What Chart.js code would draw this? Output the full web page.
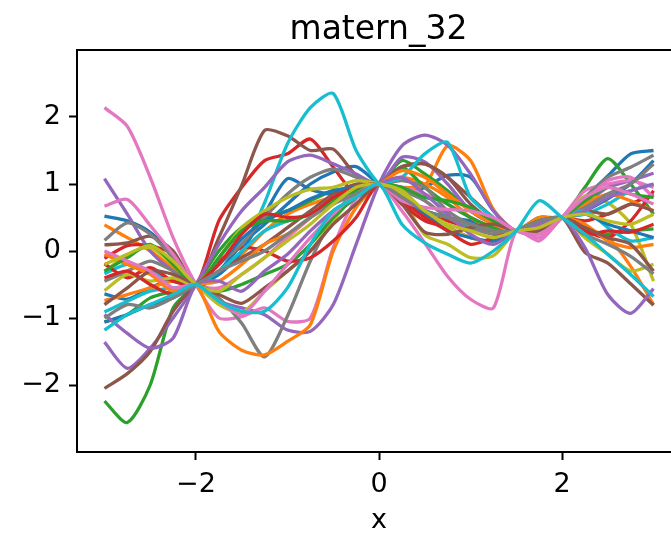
<!DOCTYPE html>
<html>
<head>
<meta charset="utf-8">
<script src="https://cdn.jsdelivr.net/npm/chart.js@4.4.1/dist/chart.umd.min.js"></script>
<style>
  html, body { margin: 0; padding: 0; background: #fff; overflow: hidden; }
</style>
</head>
<body>
<canvas id="gp" width="757" height="536"></canvas>
<script>
// sample grid and axis ticks
const xs = [-3, -2.75, -2.5, -2.25, -2, -1.75, -1.5, -1.25, -1, -0.75, -0.5, -0.25,
            0, 0.25, 0.5, 0.75, 1, 1.25, 1.5, 1.75, 2, 2.25, 2.5, 2.75, 3];
const xTicks = [-2, 0, 2];
const yTicks = [-2, -1, 0, 1, 2];

// posterior samples, three per colour
const blue = [
  [0.52, 0.45, 0.28, -0.05, -0.5, -0.3, 0.1, 0.4, 0.7, 1.0, 1.18, 1.26, 1, 0.85, 0.95, 1.13, 1.1, 0.6, 0.3, 0.45, 0.5, 0.8, 1.12, 1.45, 1.5],
  [-0.64, -0.72, -0.55, -0.42, -0.5, -0.35, 0.0, 0.55, 1.08, 0.92, 0.85, 0.95, 1, 0.75, 0.6, 0.5, 0.45, 0.35, 0.3, 0.48, 0.5, 0.6, 0.78, 1.0, 1.35],
  [-1.06, -0.95, -0.8, -0.7, -0.5, -0.2, 0.18, 0.45, 0.6, 0.78, 0.9, 0.95, 1, 0.8, 0.55, 0.3, 0.2, 0.15, 0.3, 0.45, 0.5, 0.55, 0.4, 0.3, 0.2]
];
const orange = [
  [0.39, 0.2, 0.0, -0.25, -0.5, -0.3, -0.05, 0.3, 0.55, 0.7, 0.8, 0.85, 1, 0.95, 0.98, 1.57, 1.35, 0.62, 0.3, 0.45, 0.5, 0.35, 0.2, -0.23, -0.8],
  [-0.74, -0.65, -0.55, -0.45, -0.5, -1.2, -1.48, -1.55, -1.35, -1.1, 0.0, 0.65, 1, 1.1, 1.0, 0.8, 0.5, 0.35, 0.3, 0.5, 0.5, 0.7, 0.85, 0.75, 0.6],
  [-0.05, -0.2, -0.35, -0.6, -0.5, -0.45, -0.2, 0.1, 0.25, 0.5, 0.8, 0.9, 1, 1.2, 1.1, 0.85, 0.6, 0.4, 0.3, 0.4, 0.5, 0.4, 0.15, 0.05, 0.1]
];
const green = [
  [-2.24, -2.56, -2.0, -0.85, -0.5, 0.0, 0.35, 0.5, 0.6, 0.75, 0.9, 0.95, 1, 1.35, 1.15, 0.9, 0.6, 0.45, 0.3, 0.5, 0.5, 0.95, 1.38, 1.0, 0.55],
  [-1.06, -0.95, -0.7, -0.6, -0.5, -0.6, -0.5, -0.35, -0.2, 0.1, 0.5, 0.8, 1, 1.25, 0.95, 0.7, 0.5, 0.35, 0.3, 0.45, 0.5, 0.3, 0.25, 0.3, 0.33],
  [-0.3, -0.1, 0.1, -0.2, -0.5, -0.1, 0.3, 0.45, 0.45, 0.55, 0.75, 0.9, 1, 0.95, 0.8, 0.75, 0.65, 0.45, 0.3, 0.4, 0.5, 0.75, 0.95, 0.85, 0.8]
];
const red = [
  [-0.11, 0.08, 0.08, -0.05, -0.5, 0.45, 0.95, 1.35, 1.45, 1.67, 1.25, 0.85, 1, 0.8, 0.55, 0.45, 0.35, 0.3, 0.3, 0.4, 0.5, 0.45, 0.55, 0.7, 0.85],
  [-0.19, -0.4, -0.25, -0.45, -0.5, -0.15, 0.05, 0.0, -0.15, -0.1, 0.15, 0.5, 1, 0.7, 0.45, 0.35, 0.2, 0.15, 0.3, 0.35, 0.5, 0.3, 0.2, 0.45, 0.9],
  [-0.4, -0.3, -0.5, -0.65, -0.5, -0.2, 0.25, 0.55, 0.5, 0.55, 0.8, 0.95, 1, 0.75, 0.5, 0.3, 0.1, 0.2, 0.3, 0.4, 0.5, 0.25, 0.3, 0.28, 0.4]
];
const purple = [
  [1.08, 0.55, 0.0, -0.3, -0.5, -0.75, -0.85, -0.95, -1.18, -1.2, -0.8, 0.1, 1, 1.57, 1.73, 1.58, 1.15, 0.6, 0.3, 0.45, 0.5, 0.7, 0.95, 1.05, 1.16],
  [-1.36, -1.75, -1.45, -1.0, -0.5, 0.1, 0.6, 0.95, 1.33, 1.43, 1.3, 1.15, 1, 1.4, 1.33, 1.0, 0.6, 0.4, 0.3, 0.4, 0.5, 0.05, -0.65, -0.93, -0.56],
  [-0.95, -1.23, -1.45, -1.3, -0.5, -0.45, -0.6, -0.3, -0.05, 0.3, 0.6, 0.8, 1, 1.1, 0.85, 0.55, 0.25, 0.1, 0.3, 0.4, 0.5, 0.6, 0.8, 0.9, 1.0]
];
const brown = [
  [0.09, 0.12, 0.22, 0.0, -0.5, 0.2, 0.98, 1.8, 1.72, 1.5, 1.52, 1.13, 1, 1.25, 1.3, 1.1, 0.7, 0.45, 0.3, 0.4, 0.5, -0.02, -0.18, -0.49, -0.81],
  [-2.05, -1.83, -1.5, -0.9, -0.5, -0.3, -0.1, 0.1, 0.35, 0.6, 0.85, 1.0, 1, 1.26, 1.3, 1.1, 0.8, 0.5, 0.3, 0.35, 0.5, 0.6, 0.55, 0.7, 0.6],
  [-0.8, -0.55, -0.3, -0.35, -0.5, -0.65, -0.78, -0.55, -0.3, 0.0, 0.4, 0.7, 1, 0.7, 0.28, 0.25, 0.35, 0.4, 0.3, 0.3, 0.5, 0.35, 0.2, 0.1, -0.3]
];
const pink = [
  [2.14, 1.86, 1.1, 0.2, -0.5, -1.0, -0.98, -0.85, -1.05, -1.0, 0.05, 0.78, 1, 0.95, 0.85, 0.7, 0.5, 0.35, 0.3, 0.2, 0.5, 0.9, 1.0, 1.05, 0.95],
  [0.67, 0.77, 0.38, -0.05, -0.5, -0.55, -0.35, -0.1, 0.2, 0.5, 0.8, 0.85, 1, 0.6, 0.12, -0.38, -0.72, -0.85, 0.3, 0.15, 0.5, 0.75, 1.05, 1.1, 0.8],
  [0.0, -0.15, -0.3, -0.55, -0.5, -0.75, -0.95, -0.6, -0.2, 0.2, 0.55, 0.85, 1, 0.75, 0.65, 0.62, 0.6, 0.5, 0.3, 0.25, 0.5, 0.8, 0.95, 0.85, 0.7]
];
const gray = [
  [0.16, 0.42, 0.25, -0.1, -0.5, -0.7, -1.08, -1.58, -0.97, -0.15, 0.5, 0.9, 1, 0.9, 0.75, 0.5, 0.35, 0.25, 0.3, 0.5, 0.5, 0.8, 1.1, 1.25, 1.43],
  [-0.45, -0.3, -0.15, -0.3, -0.5, -0.2, 0.1, 0.5, 0.85, 1.1, 1.22, 1.1, 1, 1.05, 0.95, 0.6, 0.4, 0.3, 0.3, 0.4, 0.5, 0.65, 0.85, 1.0, 1.3],
  [-1.0, -0.8, -0.85, -0.7, -0.5, -0.3, -0.15, 0.0, 0.25, 0.5, 0.7, 0.85, 1, 0.8, 0.6, 0.5, 0.4, 0.3, 0.3, 0.45, 0.5, 0.25, 0.1, -0.08, -0.34]
];
const olive = [
  [-0.31, -0.05, 0.05, -0.2, -0.5, -0.8, -0.92, -0.6, -0.3, 0.0, 0.45, 0.85, 1, 0.78, 0.24, 0.1, -0.1, -0.07, 0.3, 0.45, 0.5, 0.82, 0.72, 0.4, -0.45],
  [-0.59, -0.35, -0.45, -0.4, -0.5, -0.1, 0.35, 0.6, 0.8, 0.92, 0.95, 1.05, 1, 0.85, 0.55, 0.35, 0.2, 0.15, 0.3, 0.4, 0.5, 0.2, -0.05, -0.3, -0.2],
  [-0.2, -0.05, 0.08, -0.15, -0.5, -0.6, -0.35, -0.1, 0.15, 0.4, 0.7, 0.95, 1, 0.9, 0.6, 0.4, 0.3, 0.2, 0.3, 0.35, 0.5, 0.55, 0.45, 0.4, 0.55]
];
const cyan = [
  [-0.34, -0.2, -0.3, -0.45, -0.5, -0.35, 0.0, 0.72, 1.6, 2.14, 2.35, 1.5, 1, 0.75, 0.6, 0.5, 0.4, 0.35, 0.3, 0.4, 0.5, 0.55, 0.7, 0.9, 1.0],
  [-0.91, -0.75, -0.6, -0.55, -0.5, -0.3, 0.0, 0.3, 0.45, 0.55, 0.7, 0.95, 1, 1.1, 1.45, 1.62, 0.8, 0.5, 0.3, 0.45, 0.5, 0.6, 0.35, 0.15, 0.2],
  [-1.18, -0.95, -0.8, -0.65, -0.5, -0.75, -0.9, -0.9, -0.55, 0.1, 0.6, 0.8, 1, 0.4, 0.12, -0.05, -0.18, 0.0, 0.3, 0.75, 0.5, 0.25, -0.05, -0.35, -0.68]
];

const groups = [blue, orange, green, red, purple, brown, pink, gray, olive, cyan];
const colors = ['#1f77b4', '#ff7f0e', '#2ca02c', '#d62728', '#9467bd',
                '#8c564b', '#e377c2', '#7f7f7f', '#bcbd22', '#17becf'];

// same order as matplotlib's colour cycle, later lines on top
const datasets = [];
for (let k = 0; k < 3; k++) {
  groups.forEach((g, c) => {
    datasets.push({
      data: xs.map((x, i) => ({ x: x, y: g[k][i] })),
      borderColor: colors[c],
      borderWidth: 3.3,
      pointRadius: 0,
      tension: 0.25,
      fill: false
    });
  });
}
datasets.forEach((d, i) => { d.order = datasets.length - i; });

const minus = v => (v < 0 ? '\u2212' + Math.abs(v) : String(v));

// top and right spines (the right one falls outside the window)
const frame = {
  id: 'frame',
  afterDraw(chart) {
    const a = chart.chartArea;
    const ctx = chart.ctx;
    ctx.save();
    ctx.strokeStyle = '#000';
    ctx.lineWidth = 2;
    ctx.beginPath();
    ctx.moveTo(a.left - 1, a.top);
    ctx.lineTo(a.right, a.top);
    ctx.lineTo(a.right, a.bottom);
    ctx.stroke();
    ctx.restore();
  }
};

Chart.defaults.font.family = "'DejaVu Sans', sans-serif";
Chart.defaults.color = '#000';

new Chart(document.getElementById('gp'), {
  type: 'line',
  data: { datasets: datasets },
  options: {
    responsive: false,
    animation: false,
    devicePixelRatio: 1,
    layout: { padding: 0 },
    scales: {
      x: {
        type: 'linear',
        min: -3.3,
        max: 3.3,
        afterBuildTicks: s => { s.ticks = xTicks.map(v => ({ value: v })); },
        afterFit: s => { s.height = 84; },
        ticks: { callback: minus, font: { size: 27 }, padding: 9, maxRotation: 0 },
        grid: { drawOnChartArea: false, tickLength: 8, tickWidth: 2, color: '#000' },
        border: { color: '#000', width: 2 },
        title: { display: true, text: 'x', font: { size: 27, lineHeight: 1 }, padding: { top: 0, bottom: 1.5 } }
      },
      y: {
        min: -3,
        max: 3,
        afterBuildTicks: s => { s.ticks = yTicks.map(v => ({ value: v })); },
        afterFit: s => { s.width = 77; },
        ticks: { callback: minus, font: { size: 27 }, padding: 8 },
        grid: { drawOnChartArea: false, tickLength: 8, tickWidth: 2, color: '#000' },
        border: { color: '#000', width: 2 }
      },
      // empty right margin so the axes box stays centred under the title
      yRight: {
        position: 'right',
        min: -3,
        max: 3,
        afterBuildTicks: s => { s.ticks = []; },
        afterFit: s => { s.width = 76; },
        ticks: { display: false },
        grid: { display: false },
        border: { display: false }
      }
    },
    plugins: {
      legend: { display: false },
      tooltip: { enabled: false },
      title: {
        display: true,
        text: 'matern_32',
        color: '#000',
        font: { size: 33, weight: 'normal', lineHeight: 1.1 },
        padding: { top: 12, bottom: 1.7 }
      }
    }
  },
  plugins: [frame]
});
</script>
</body>
</html>
